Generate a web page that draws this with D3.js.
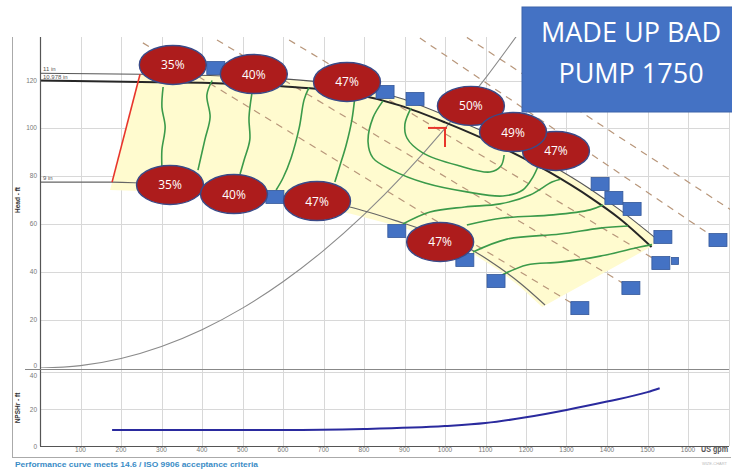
<!DOCTYPE html>
<html><head><meta charset="utf-8">
<script src="https://cdn.jsdelivr.net/npm/d3@7"></script>
<style>body{margin:0;background:#fff}svg{display:block}</style>
</head><body>
<svg id="c" width="732" height="470"></svg>
<script>
// ---------- data ----------
const xTicks = [100,200,300,400,500,600,700,800,900,1000,1100,1200,1300,1400,1500,1600];
const xGrid = [100,200,300,400,500,600,700,800,900,1000,1100,1200,1300,1400,1500,1600,1700];
const headTicks = [0,20,40,60,80,100,120];
const npshTicks = [0,20,40];

const curve11 = [[0,123],[250,122.6],[420,122.1],[590,120.8],[765,117.8],[890,112.6],[1000,105.5],[1135,95.6],[1260,84.8],[1360,74.5],[1430,66.2],[1525,53.5]];
const curve10978 = [[0,120],[250,119.4],[420,119],[590,117.7],[765,114.8],[890,109.5],[1000,102.5],[1135,92.5],[1260,81.5],[1360,71],[1430,62.5],[1510,50.5]];
const curve9 = [[0,77.6],[178,77.6],[321,76.4],[479,73.9],[617,71.4],[765,67.2],[889,60.9],[988,55.1],[1062,49.7],[1136,41.7],[1185,35.5],[1247,26.3]];
const curveLabels = [["11 in",123],["10.978 in",120],["9 in",77.6]];

const systemQ = [0,100,200,300,400,500,600,700,800,900,1000,1100,1200];
const systemH = [0,1,4,9,16,25,36,49,64,81,100,121,144];

const npshQ = [178,250,400,600,800,1000,1100,1200,1300,1400,1500,1530];
const npshV = [8.6,8.6,8.6,8.6,9.2,10.8,12.4,15.5,19.5,24,29.1,31.2];

const redLimit = [[247,122.6],[178,77.6]];
const bepMarker = [[[958,100.2],[1005,100.2]],[[1000,100.2],[1000,92.2]]];

const yellowRegion = [[247,122.6],[420,122.1],[590,120.8],[765,117.8],[890,112.6],[1000,105.5],[1135,95.6],[1260,84.8],[1360,74.5],[1430,66.2],[1525,53.5],
  [1513,51],[1240,25.5],[1185,34],[1136,40.5],[1062,48.5],[988,53.5],[889,59],[765,64.5],[617,68.8],[479,71.5],[321,73.5],[173,74.3],[178,77.6]];

const effContours = [
  [[304,117.3],[301,108.9],[309,100.6],[301,91],[301,83.9]],
  [[425,120],[412,113.9],[420,104.8],[407,95.2],[390,82.6]],
  [[523,114.4],[516,104.4],[518,95.2],[504,86.8],[494,81]],
  [[664,117],[652,111.9],[640,100.2],[620,87.7],[600,79.3],[583,74.3]],
  [[778,114],[770,103.5],[756,93.1],[741,84.7],[728,77.6]],
  [[916,108.5],[901,101.8],[906,96],[946,89.7],[1037,84.3],[1111,81.8],[1138,84.3],[1146,88.9]],
  [[847,111.5],[822,104.4],[810,94.3],[822,87.7],[869,82.6],[951,77.2],[1054,73.5],[1143,71.8],[1192,74.3],[1217,79.7],[1230,84.3]],
  [[896,60.1],[963,65.1],[1049,67.2],[1136,68.5],[1210,72.2],[1264,77.6],[1285,78.8]],
  [[1054,59.7],[1143,62.6],[1267,63.9],[1358,66],[1390,68]],
  [[1069,48.4],[1153,53.8],[1284,55.9],[1383,58.4],[1452,59.3]],
  [[1141,38.8],[1202,43],[1284,44.2],[1383,46.7],[1481,50.5],[1511,51.5]]
];

const dashedLines = [
  [[254,135.7],[1333,25]],
  [[437,136.9],[1459,33.4]],
  [[615,136.9],[1533,43.8]],
  [[938,137.7],[1674,53.4]],
  [[1054,138],[1715,65]]
];

const squareQ = [434,852,926,580,881,1049,1126,1383,1417,1462,1538,1674,1533,1459,1333];
const squareH = [125.2,115.2,112.3,71.4,57.2,45.1,36.3,76.8,71,66.4,54.7,53.4,43.8,33.4,25];
const smallSquare = [1568,44.7];

const labelText = ["35%","40%","47%","50%","47%","49%","35%","40%","47%","47%"];
const labelQ = [328,528,758,1064,1274,1168,321,479,684,988];
const labelH = [126.5,122.7,119.4,109.4,90.6,98.5,76.4,72.6,69.7,52.6];

const titleLines = ["MADE UP BAD","PUMP 1750"];
const footnote = "Performance curve meets 14.6 / ISO 9906 acceptance criteria";

// ---------- scales ----------
const svg = d3.select("#c");
const x = d3.scaleLinear().domain([0,1700]).range([40,728.5]);
const yH = d3.scaleLinear().domain([0,120]).range([368,80.5]);
const yN = d3.scaleLinear().domain([0,40]).range([446,372]);
const TOP = 37;

// frame
svg.append("line").attr("x1",12.5).attr("x2",12.5).attr("y1",TOP).attr("y2",457.5).attr("stroke","#aaa");
svg.append("line").attr("x1",12).attr("x2",731).attr("y1",457.5).attr("y2",457.5).attr("stroke","#aaa");

// grid
const grid = svg.append("g").attr("stroke","#d8d8d8").attr("stroke-width",1);
grid.selectAll(".v").data(xGrid).join("line").attr("x1",d=>Math.round(x(d))+0.5).attr("x2",d=>Math.round(x(d))+0.5).attr("y1",TOP).attr("y2",446);
grid.selectAll(".h").data(headTicks.filter(d=>d>0)).join("line").attr("x1",40).attr("x2",729).attr("y1",d=>Math.round(yH(d))+0.5).attr("y2",d=>Math.round(yH(d))+0.5);
grid.selectAll(".n").data([20,40]).join("line").attr("x1",40).attr("x2",729).attr("y1",d=>Math.round(yN(d))+0.5).attr("y2",d=>Math.round(yN(d))+0.5);

// clip for head panel
svg.append("clipPath").attr("id","hp").append("rect").attr("x",40).attr("y",TOP).attr("width",690).attr("height",368-TOP);
const hp = svg.append("g").attr("clip-path","url(#hp)");

const lin = d3.line().x(d=>x(d[0])).y(d=>yH(d[1]));
const mono = d3.line().x(d=>x(d[0])).y(d=>yH(d[1])).curve(d3.curveMonotoneX);
const cr = d3.line().x(d=>x(d[0])).y(d=>yH(d[1])).curve(d3.curveCatmullRom.alpha(0.5));

hp.append("path").attr("d",lin(yellowRegion)+"Z").attr("fill","#fffbcf").attr("stroke","none");

hp.selectAll(".dash").data(dashedLines).join("path").attr("d",lin).attr("fill","none")
  .attr("stroke","#b8967a").attr("stroke-width",1.2).attr("stroke-dasharray","7,6");

hp.append("path").attr("d",mono(systemQ.map((q,i)=>[q,systemH[i]]))).attr("fill","none").attr("stroke","#8a8a8a").attr("stroke-width",1.1);

hp.append("path").attr("d",mono(curve9)).attr("fill","none").attr("stroke","#666").attr("stroke-width",1.2);
hp.append("path").attr("d",mono(curve11)).attr("fill","none").attr("stroke","#555").attr("stroke-width",1.1);
hp.append("path").attr("d",mono(curve10978)).attr("fill","none").attr("stroke","#262626").attr("stroke-width",2);

hp.append("path").attr("d",lin(redLimit)).attr("stroke","#e8352b").attr("stroke-width",1.6).attr("fill","none");

hp.selectAll(".eff").data(effContours).join("path").attr("d",cr).attr("fill","none").attr("stroke","#3b9a4a").attr("stroke-width",1.6);

hp.selectAll(".bep").data(bepMarker).join("path").attr("d",lin).attr("stroke","#e8352b").attr("stroke-width",2).attr("fill","none");

// curve labels
svg.selectAll(".cl").data(curveLabels).join("text").attr("x",43).attr("y",d=>yH(d[1])-2)
  .attr("font-family","Liberation Sans, Arial").attr("font-size",6).attr("fill","#555").text(d=>d[0]);

// axes lines
svg.append("line").attr("x1",40.5).attr("x2",40.5).attr("y1",TOP).attr("y2",446).attr("stroke","#555").attr("stroke-width",1.2);
svg.append("line").attr("x1",25).attr("x2",729).attr("y1",369.5).attr("y2",369.5).attr("stroke","#888").attr("stroke-width",1.2);
svg.append("line").attr("x1",40).attr("x2",729).attr("y1",446.5).attr("y2",446.5).attr("stroke","#555").attr("stroke-width",1.2);

// NPSH curve
svg.append("path").attr("d",d3.line().x(d=>x(d[0])).y(d=>yN(d[1])).curve(d3.curveMonotoneX)(npshQ.map((q,i)=>[q,npshV[i]])))
  .attr("fill","none").attr("stroke","#2a2a9e").attr("stroke-width",2);

// tick labels
const tf = {fam:"Liberation Sans, Arial", size:6.5, col:"#777"};
svg.selectAll(".xt").data(xTicks).join("text").attr("x",d=>x(d)).attr("y",452).attr("text-anchor","middle")
  .attr("font-family",tf.fam).attr("font-size",tf.size).attr("fill",tf.col).text(d=>d);
svg.selectAll(".yt").data(headTicks).join("text").attr("x",37).attr("y",d=>yH(d)+(d===0?-0.5:2)).attr("text-anchor","end")
  .attr("font-family",tf.fam).attr("font-size",tf.size).attr("fill",tf.col).text(d=>d);
svg.selectAll(".nt").data(npshTicks).join("text").attr("x",37).attr("y",d=>yN(d)+(d===40?5.5:3)).attr("text-anchor","end")
  .attr("font-family",tf.fam).attr("font-size",tf.size).attr("fill",tf.col).text(d=>d);
svg.append("text").attr("x",701).attr("y",452).attr("font-family","Liberation Sans, Arial").attr("font-weight","bold")
  .attr("font-size",8.5).attr("fill","#555").attr("textLength",27).attr("lengthAdjust","spacingAndGlyphs").text("US gpm");
svg.append("text").attr("transform","translate(20,200) rotate(-90)").attr("text-anchor","middle")
  .attr("font-family","Liberation Sans, Arial").attr("font-weight","bold").attr("font-size",6.5).attr("fill","#333").text("Head - ft");
svg.append("text").attr("transform","translate(20,408) rotate(-90)").attr("text-anchor","middle")
  .attr("font-family","Liberation Sans, Arial").attr("font-weight","bold").attr("font-size",6.5).attr("fill","#333").text("NPSHr - ft");

// footnote
svg.append("text").attr("x",15).attr("y",467).attr("font-family","Liberation Sans, Arial").attr("font-weight","bold")
  .attr("font-size",8).attr("fill","#3a8cc6").attr("textLength",243).attr("lengthAdjust","spacingAndGlyphs").text(footnote);
svg.append("text").attr("x",727).attr("y",465).attr("text-anchor","end").attr("font-family","Liberation Sans, Arial")
  .attr("font-size",4).attr("fill","#bbb").text("WIZE-CHART");

// squares
svg.selectAll(".sq").data(squareQ.map((q,i)=>[q,squareH[i]])).join("rect")
  .attr("x",d=>x(d[0])-9).attr("y",d=>yH(d[1])-6.5).attr("width",18).attr("height",13)
  .attr("fill","#4472c4").attr("stroke","#34589a").attr("stroke-width",0.8);
svg.append("rect").attr("x",x(smallSquare[0])-3.5).attr("y",yH(smallSquare[1])-3.5).attr("width",7).attr("height",7)
  .attr("fill","#4472c4").attr("stroke","#34589a").attr("stroke-width",0.8);

// ellipses
const lab = svg.selectAll(".lab").data(labelText.map((t,i)=>({t,q:labelQ[i],h:labelH[i]}))).join("g");
lab.append("ellipse").attr("cx",d=>x(d.q)).attr("cy",d=>yH(d.h)).attr("rx",33.5).attr("ry",19.5)
  .attr("fill","#ad1c1c").attr("stroke","#3a4a88").attr("stroke-width",1.4);
lab.append("text").attr("x",d=>x(d.q)).attr("y",d=>yH(d.h)+4.5).attr("text-anchor","middle")
  .attr("font-family","Open Sans, sans-serif").attr("font-size",12).attr("fill","#fff").text(d=>d.t);

// title box
svg.append("rect").attr("x",522).attr("y",7).attr("width",212).attr("height",105).attr("fill","#4472c4").attr("stroke","#3a62aa");
svg.selectAll(".tt").data(titleLines).join("text").attr("x",631).attr("y",(d,i)=>42+i*41).attr("text-anchor","middle")
  .attr("font-family","Open Sans, sans-serif").attr("font-size",27).attr("fill","#fff").text(d=>d);
</script>
</body></html>
